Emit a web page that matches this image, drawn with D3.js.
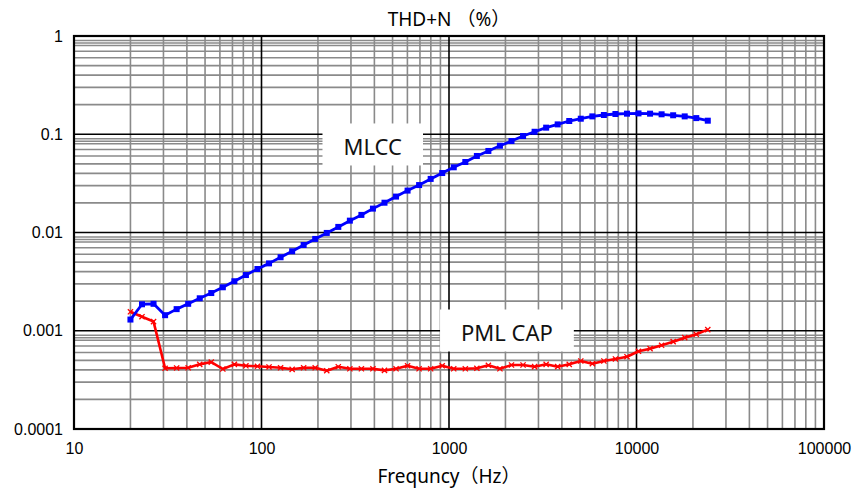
<!DOCTYPE html>
<html>
<head>
<meta charset="utf-8">
<script src="https://cdn.jsdelivr.net/npm/d3@7"></script>
<style>
  body { margin: 0; background: #fff; }
  .tick-label { font-family: "Liberation Sans", Arial, sans-serif; font-size: 16px; fill: #000; }
  .title { font-family: "Noto Sans", "Noto Sans CJK JP", sans-serif; font-size: 19px; fill: #000; }
  .note { font-family: "Noto Sans", "Noto Sans CJK JP", sans-serif; font-size: 22px; fill: #111; }
</style>
</head>
<body>
<div id="chart"></div>
<script>
// sweep frequencies (Hz)
var freqs = [20, 23.05, 26.56, 30.61, 35.27, 40.64, 46.84, 53.97, 62.2, 71.68,
             82.6, 95.16, 109.7, 126.4, 145.7, 167.8, 193.4, 222.9, 256.8, 296,
             341, 392.9, 452.8, 521.8, 601.3, 692.8, 798.4, 920.1, 1060, 1222,
             1408, 1622, 1869, 2154, 2483, 2861, 3297, 3799, 4378, 5045,
             5814, 6700, 7721, 8897, 10250, 11812, 13612, 15686, 18076, 20831, 24000];

// THD+N (%) - MLCC
var mlcc = [0.0013, 0.00186, 0.00188, 0.00144, 0.00166, 0.00188, 0.00214, 0.00242, 0.00277, 0.00319,
            0.00369, 0.00425, 0.00485, 0.0056, 0.00644, 0.00746, 0.0086, 0.0099, 0.0114, 0.0132,
            0.0151, 0.0175, 0.0201, 0.0232, 0.0267, 0.0304, 0.0351, 0.0403, 0.0461, 0.0522,
            0.0601, 0.0676, 0.0764, 0.0853, 0.0959, 0.106, 0.1167, 0.126, 0.1364, 0.1439,
            0.152, 0.157, 0.1607, 0.162, 0.163, 0.162, 0.1596, 0.156, 0.152, 0.146, 0.1374];

// THD+N (%) - PML CAP
var pmlcap = [0.00156, 0.00139, 0.00124, 0.000415, 0.000418, 0.00042, 0.000455, 0.00048, 0.000408, 0.000455,
              0.00044, 0.000435, 0.000428, 0.00042, 0.000405, 0.00042, 0.00042, 0.000392, 0.00043, 0.00041,
              0.00041, 0.00041, 0.000395, 0.00041, 0.00044, 0.00041, 0.00041, 0.00044, 0.00041, 0.00041,
              0.000415, 0.000445, 0.00041, 0.000448, 0.000448, 0.000431, 0.000455, 0.000431, 0.000455, 0.000492,
              0.000462, 0.000492, 0.000516, 0.000544, 0.000618, 0.000657, 0.000711, 0.000774, 0.00085, 0.00092, 0.001026];

var xTicks = [10, 100, 1000, 10000, 100000];
var xTickLabels = ["10", "100", "1000", "10000", "100000"];
var yTicks = [0.0001, 0.001, 0.01, 0.1, 1];
var yTickLabels = ["0.0001", "0.001", "0.01", "0.1", "1"];

// the two boxed curve names, anchored at a data point
var noteNames = ["MLCC", "PML CAP"];
var noteFreqs = [392, 2037];
var noteValues = [0.0787, 0.001006];

var w = 858, h = 489;
var margin = {top: 36, right: 34, bottom: 60, left: 74};

var svg = d3.select("#chart").append("svg")
    .attr("width", w)
    .attr("height", h);

var x = d3.scaleLog().domain([10, 100000]).range([margin.left, w - margin.right]);
var y = d3.scaleLog().domain([0.0001, 1]).range([h - margin.bottom, margin.top]);

var x0 = x.range()[0], x1 = x.range()[1];
var y0 = y.range()[1], y1 = y.range()[0];

//_ grid: minor lines first, then decades in black
var grid = svg.append("g").attr("class", "grid");

var xMinor = x.ticks().filter(function(t){ return xTicks.indexOf(t) < 0; });
var yMinor = y.ticks().filter(function(t){ return yTicks.indexOf(t) < 0; });
// the original grid also has a line at 8.5 in every decade
yTicks.slice(0, -1).forEach(function(t){ yMinor.push(t * 8.5); });

grid.selectAll("line.xminor")
    .data(xMinor)
    .enter().append("line")
    .attr("class", "xminor")
    .attr("x1", function(d){ return x(d); })
    .attr("x2", function(d){ return x(d); })
    .attr("y1", y0).attr("y2", y1)
    .attr("stroke", "#8a8a8a")
    .attr("stroke-width", 1.6);

grid.selectAll("line.yminor")
    .data(yMinor)
    .enter().append("line")
    .attr("class", "yminor")
    .attr("x1", x0).attr("x2", x1)
    .attr("y1", function(d){ return y(d); })
    .attr("y2", function(d){ return y(d); })
    .attr("stroke", "#8a8a8a")
    .attr("stroke-width", 1.6);

grid.selectAll("line.xmajor")
    .data(xTicks)
    .enter().append("line")
    .attr("class", "xmajor")
    .attr("x1", function(d){ return x(d); })
    .attr("x2", function(d){ return x(d); })
    .attr("y1", y0).attr("y2", y1)
    .attr("stroke", "#000")
    .attr("stroke-width", 1.6);

grid.selectAll("line.ymajor")
    .data(yTicks)
    .enter().append("line")
    .attr("class", "ymajor")
    .attr("x1", x0).attr("x2", x1)
    .attr("y1", function(d){ return y(d); })
    .attr("y2", function(d){ return y(d); })
    .attr("stroke", "#000")
    .attr("stroke-width", 1.6);

// frame
svg.append("rect")
    .attr("x", x0).attr("y", y0)
    .attr("width", x1 - x0).attr("height", y1 - y0)
    .attr("fill", "none")
    .attr("stroke", "#000")
    .attr("stroke-width", 2.2);

// tick labels (axes without domain/tick lines)
var xAxis = svg.append("g")
    .attr("transform", "translate(0," + y1 + ")")
    .call(d3.axisBottom(x).tickValues(xTicks).tickSize(0).tickPadding(14)
        .tickFormat(function(d, i){ return xTickLabels[i]; }));
var yAxis = svg.append("g")
    .attr("transform", "translate(" + x0 + ",0)")
    .call(d3.axisLeft(y).tickValues(yTicks).tickSize(0).tickPadding(11)
        .tickFormat(function(d, i){ return yTickLabels[i]; }));
[xAxis, yAxis].forEach(function(a){
    a.select(".domain").remove();
    a.selectAll("text").attr("class", "tick-label").attr("font-size", null).attr("font-family", null);
});

// notes (white boxes with the curve names)
var notes = svg.append("g").attr("class", "notes");
noteNames.forEach(function(name, i){
    var cx = x(noteFreqs[i]), cy = y(noteValues[i]);
    var g = notes.append("g");
    var rect = g.append("rect").attr("fill", "#fff");
    var t = g.append("text")
        .attr("class", "note")
        .attr("x", cx)
        .attr("y", cy + 10.5)
        .attr("text-anchor", "middle")
        .text(name);
    var bw = t.node().getBBox().width + 42;
    rect.attr("x", cx - bw / 2).attr("y", cy - 21)
        .attr("width", bw).attr("height", 42);
});

//_ series
var pts = freqs.map(function(f, i){ return {f: f, a: mlcc[i], b: pmlcap[i]}; });

var lineA = d3.line().x(function(d){ return x(d.f); }).y(function(d){ return y(d.a); });
var lineB = d3.line().x(function(d){ return x(d.f); }).y(function(d){ return y(d.b); });

svg.append("path")
    .datum(pts)
    .attr("d", lineB)
    .attr("fill", "none")
    .attr("stroke", "#ff0000")
    .attr("stroke-width", 2.6)
    .attr("stroke-linejoin", "round");

var cross = svg.append("g").attr("class", "crosses");
cross.selectAll("path")
    .data(pts)
    .enter().append("path")
    .attr("d", function(d){
        var px = x(d.f), py = y(d.b), s = 2.6;
        return "M" + (px - s) + "," + (py - s) + "L" + (px + s) + "," + (py + s) +
               "M" + (px - s) + "," + (py + s) + "L" + (px + s) + "," + (py - s);
    })
    .attr("stroke", "#ff0000")
    .attr("stroke-width", 1.3);

svg.append("path")
    .datum(pts)
    .attr("d", lineA)
    .attr("fill", "none")
    .attr("stroke", "#0000ff")
    .attr("stroke-width", 2.8)
    .attr("stroke-linejoin", "round");

svg.append("g").attr("class", "squares")
    .selectAll("rect")
    .data(pts)
    .enter().append("rect")
    .attr("x", function(d){ return x(d.f) - 3; })
    .attr("y", function(d){ return y(d.a) - 3; })
    .attr("width", 6)
    .attr("height", 6)
    .attr("fill", "#0000ff");

// titles
svg.append("text")
    .attr("class", "title")
    .attr("x", (x0 + x1) / 2)
    .attr("y", 26)
    .attr("text-anchor", "middle")
    .text("THD+N （%）");

svg.append("text")
    .attr("class", "title")
    .attr("x", (x0 + x1) / 2)
    .attr("y", 483)
    .attr("font-size", "18px")
    .attr("text-anchor", "middle")
    .text("Frequncy（Hz）");
</script>
</body>
</html>
